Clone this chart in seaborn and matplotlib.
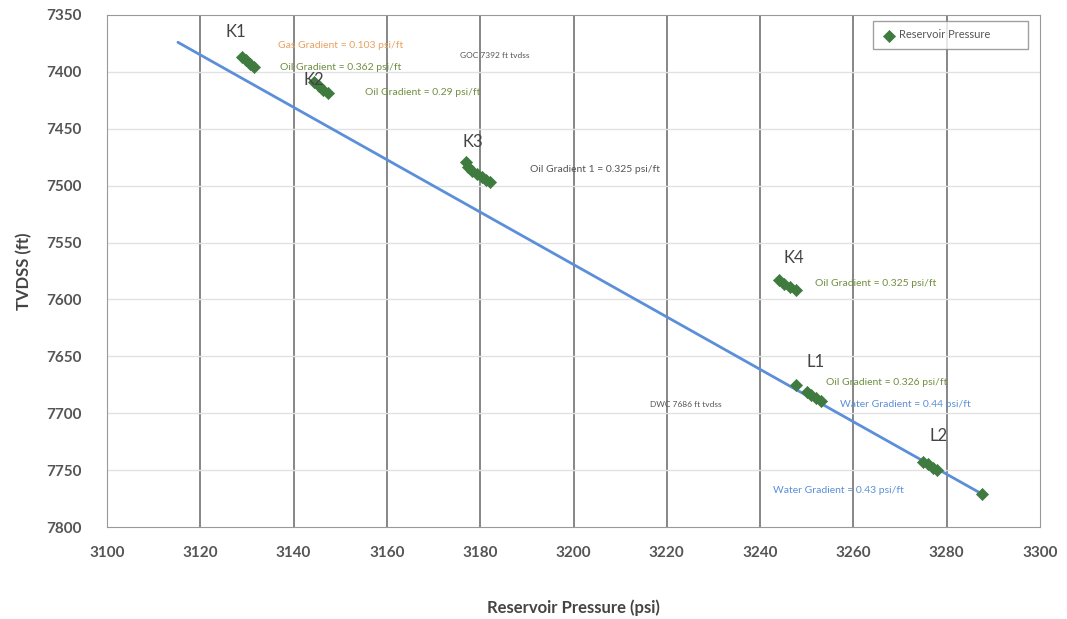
import pandas as pd
import matplotlib
matplotlib.use('Agg')
import matplotlib.pyplot as plt
import seaborn as sns

sns.set_style('white')
plt.rcParams['font.family'] = ['Lato', 'DejaVu Sans']

# reservoir pressure measurements (psi, ft TVDSS)
pressure = [3129.0, 3129.8, 3130.6, 3131.5,
            3144.4, 3145.4, 3146.4, 3147.4,
            3177.0, 3177.3, 3178.3, 3179.3, 3180.3, 3181.2, 3182.0,
            3244.0, 3245.2, 3246.5, 3247.7,
            3247.8, 3250.0, 3251.0, 3252.0, 3253.0,
            3274.9, 3276.0, 3277.0, 3277.9, 3287.5]
depth = [7387, 7390, 7393, 7396,
         7409, 7412, 7416, 7419,
         7479, 7484, 7487, 7490, 7492, 7495, 7497,
         7583, 7586, 7589, 7592,
         7675, 7681, 7684, 7687, 7689,
         7743, 7745, 7748, 7750, 7771]

# overall trend line end points
trend_p = [3115.2, 3288]
trend_d = [7374, 7772]

# zone labels
zone_names = ['K1', 'K2', 'K3', 'K4', 'L1', 'L2']
zone_p = [3125.5, 3142.2, 3176.3, 3245.0, 3250.0, 3276.4]
zone_d = [7365, 7407, 7462, 7564, 7655, 7720]

# gradient notes: text, x, y, colour
notes = [
    ('Gas Gradient = 0.103 psi/ft', 3136.7, 7377, '#e8a060'),
    ('Oil Gradient = 0.362 psi/ft', 3137.1, 7396, '#6f8f3f'),
    ('Oil Gradient = 0.29 psi/ft', 3155.3, 7418, '#6f8f3f'),
    ('Oil Gradient 1 = 0.325 psi/ft', 3190.7, 7486, '#555555'),
    ('Oil Gradient = 0.325 psi/ft', 3251.8, 7586, '#6f8f3f'),
    ('Oil Gradient = 0.326 psi/ft', 3254.1, 7673, '#6f8f3f'),
    ('Water Gradient = 0.44 psi/ft', 3257.1, 7692, '#5b8fd9'),
    ('Water Gradient = 0.43 psi/ft', 3242.8, 7768, '#5b8fd9'),
]
contacts = [('GOC 7392 ft tvdss', 3175.7, 7386),
            ('DWC 7686 ft tvdss', 3216.4, 7692)]

df = pd.DataFrame({'pressure': pressure, 'depth': depth})
trend = pd.DataFrame({'pressure': trend_p, 'depth': trend_d})

fig = plt.figure(figsize=(10.67, 6.19), dpi=100)
ax = fig.add_axes([0.1003, 0.1486, 0.8744, 0.8272])

ax.set_xlim(3100, 3300)
ax.set_ylim(7800, 7350)
ax.set_xticks(range(3100, 3301, 20))
ax.set_yticks(range(7350, 7801, 50))
ax.grid(False)
for x in range(3120, 3300, 20):
    ax.axvline(x, color='#666666', lw=1.1, zorder=0)
for y in range(7400, 7800, 50):
    ax.axhline(y, color='#e2e2e2', lw=1, zorder=0)

sns.lineplot(data=trend, x='pressure', y='depth', ax=ax, color='#5b8fd9',
             lw=2, legend=False, zorder=2)
sns.scatterplot(data=df, x='pressure', y='depth', ax=ax, marker='D', s=38,
                color='#3f7a3f', edgecolor='#3f7a3f', label='Reservoir Pressure',
                zorder=3)

for name, x, y in zip(zone_names, zone_p, zone_d):
    ax.text(x, y, name, fontsize=12, color='#444444', ha='left', va='center')
for txt, x, y, c in notes:
    ax.text(x, y, txt, fontsize=7.5, color=c, ha='left', va='center')
for txt, x, y in contacts:
    ax.text(x, y, txt, fontsize=6, color='#555555', ha='left', va='center')

leg = ax.legend(loc='upper right', fontsize=8, frameon=True, fancybox=False,
                borderpad=0.8, handletextpad=0.3, handlelength=1.2,
                bbox_to_anchor=(0.993, 1.0))
leg.get_frame().set_edgecolor('#888888')
leg.get_texts()[0].set_text('Reservoir Pressure          ')
for t in leg.get_texts():
    t.set_color('#555555')

ax.set_xlabel('Reservoir Pressure (psi)', fontsize=12, fontweight='bold',
              color='#444444', labelpad=28)
ax.set_ylabel('TVDSS (ft)', fontsize=12, fontweight='bold', color='#444444',
              labelpad=10)
ax.tick_params(axis='both', labelsize=11, colors='#555555', length=4)
ax.tick_params(axis='x', pad=10)
ax.tick_params(axis='y', pad=14)
for lab in ax.get_xticklabels() + ax.get_yticklabels():
    lab.set_fontweight('bold')
for s in ax.spines.values():
    s.set_color('#999999')

fig.savefig('out.png', dpi=100)
